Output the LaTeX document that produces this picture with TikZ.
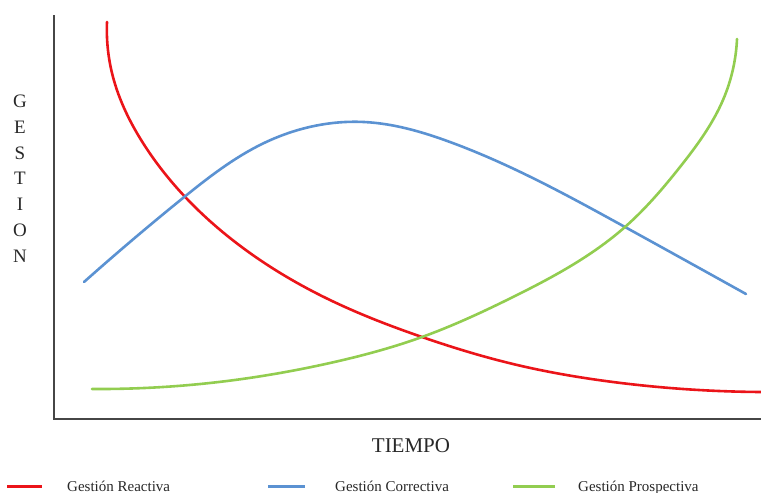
\documentclass[tikz,border=0pt]{standalone}
\usepackage{fontspec}
\setmainfont{Liberation Serif}
\usetikzlibrary{hobby}
\definecolor{cred}{RGB}{235,20,25}
\definecolor{cblue}{RGB}{91,146,210}
\definecolor{cgreen}{RGB}{146,205,80}
\definecolor{axisgray}{RGB}{70,70,70}
\definecolor{txt}{RGB}{40,40,40}
\tikzset{
  curve/.style={line width=2.6pt, line cap=round, use Hobby shortcut},
  axisline/.style={draw=axisgray, line width=1.6pt},
  legline/.style={line width=3pt},
  legtext/.style={text=txt, font=\fontsize{15}{15}\selectfont, anchor=base west, inner sep=0pt},
}
\begin{document}
\begin{tikzpicture}[x=1pt,y=-1pt]
\useasboundingbox (0,0) rectangle (761,493);
% axes
\coordinate (top) at (54,15);
\coordinate (origin) at (54,419);
\coordinate (right) at (761,419);
\draw[axisline] (top) -- (origin) -- (right);
% curves
\draw[curve, cred] (107,22) .. (113,77) .. (143,143) .. (230,238)
 .. (330,300) .. (422,337) .. (513,364) .. (613,382) .. (761,392);
\draw[curve, cblue] (84,282) .. (183,198) .. (262,144) .. (364,122) .. (450,142)
 .. (625,227) .. (746,294);
\draw[curve, cgreen] (92,389) .. (227,381) .. (330,363) .. (422,337) .. (513,297)
 .. (625,227) .. (680,167) .. (723,100) .. (737,39);
% axis labels
\node (ylab) [text=txt, anchor=base, inner sep=0pt, align=center,
  font=\fontsize{19}{25.7}\selectfont] at (20,262) {G\\E\\S\\T\\I\\O\\N};
\node (xlab) [text=txt, anchor=base, inner sep=0pt,
  font=\fontsize{21}{21}\selectfont] at (411,452) {TIEMPO};
% legend
\coordinate (l1a) at (7,486); \coordinate (l1b) at (42,486);
\coordinate (l2a) at (268,486); \coordinate (l2b) at (305,486);
\coordinate (l3a) at (513,486); \coordinate (l3b) at (555,486);
\draw[legline, cred] (l1a) -- (l1b);
\draw[legline, cblue] (l2a) -- (l2b);
\draw[legline, cgreen] (l3a) -- (l3b);
\node (t1) [legtext] at (67,491) {Gestión Reactiva};
\node (t2) [legtext] at (335,491) {Gestión Correctiva};
\node (t3) [legtext] at (578,491) {Gestión Prospectiva};
\end{tikzpicture}
\end{document}
